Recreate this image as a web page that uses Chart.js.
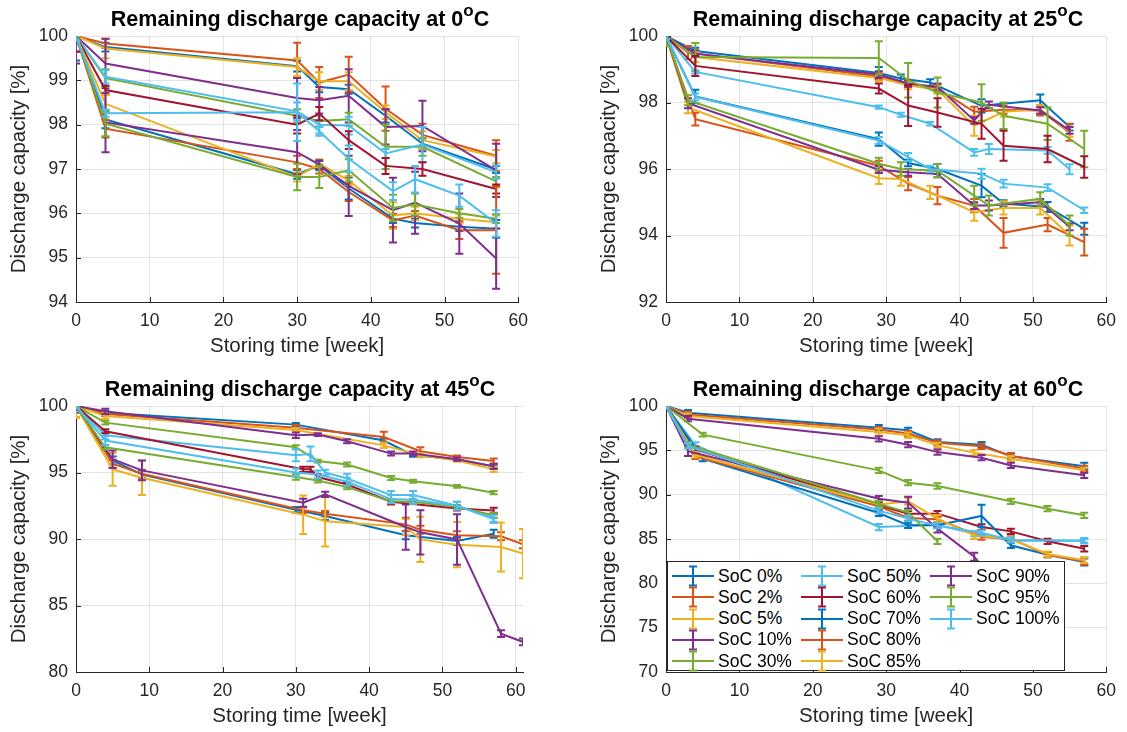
<!DOCTYPE html>
<html>
<head>
<meta charset="utf-8">
<script src="https://cdn.jsdelivr.net/npm/chart.js@4.4.1/dist/chart.umd.min.js"></script>
<style>
  body { margin: 0; background: #fff; width: 1127px; height: 732px; position: relative; overflow: hidden;
         font-family: "Liberation Sans", Arial, sans-serif; }
  canvas { position: absolute; }
  .ttl { position: absolute; font-weight: bold; font-size: 21.5px; line-height: 21.5px; color: #000;
         white-space: nowrap; transform: translateX(-50%); }
  .ttl span { font-size: 17px; position: relative; top: -10px; }
  #legend { position: absolute; left: 667px; top: 561px; width: 396px; height: 108px; background: #fff;
            border: 1px solid #262626; }
  .item { position: absolute; height: 22px; display: flex; align-items: center; font-size: 17.5px; color: #000; white-space: nowrap; }
  .item svg { margin-right: 4px; }
</style>
</head>
<body>
<canvas id="c0" width="537" height="362" style="left:0px;top:0px"></canvas>
<canvas id="c1" width="535" height="362" style="left:590px;top:0px"></canvas>
<canvas id="c2" width="537" height="362" style="left:0px;top:370px"></canvas>
<canvas id="c3" width="535" height="362" style="left:590px;top:370px"></canvas>
<div class="ttl" style="left:300px;top:9px">Remaining discharge capacity at 0<span>o</span>C</div>
<div class="ttl" style="left:888px;top:9px">Remaining discharge capacity at 25<span>o</span>C</div>
<div class="ttl" style="left:300px;top:379px">Remaining discharge capacity at 45<span>o</span>C</div>
<div class="ttl" style="left:888px;top:379px">Remaining discharge capacity at 60<span>o</span>C</div>
<div id="legend"></div>
<script>
const seriesLabels = ['SoC 0%', 'SoC 2%', 'SoC 5%', 'SoC 10%', 'SoC 30%', 'SoC 50%', 'SoC 60%',
                      'SoC 70%', 'SoC 80%', 'SoC 85%', 'SoC 90%', 'SoC 95%', 'SoC 100%'];
const seriesColors = ['#0072BD', '#D95319', '#EDB120', '#7E2F8E', '#77AC30', '#4DBEEE', '#A2142F',
                      '#0072BD', '#D95319', '#EDB120', '#7E2F8E', '#77AC30', '#4DBEEE'];

// 0 °C
const weeks0C = [
  [0,4,30,33,37,42,47,57], [0,4,30,33,37,42,47,57], [0,4,30,33,37,42,47,57], [0,4,30,33,37,42,47,57],
  [0,4,30,33,37,42,47,57], [0,4,30,33,37,42,47,57], [0,4,30,33,37,42,47,57],
  [0,4,30,33,37,43,46,52,57], [0,4,30,33,37,43,46,52,57], [0,4,30,33,37,43,46,52,57],
  [0,4,30,33,37,43,46,52,57], [0,4,30,33,37,43,46,52,57], [0,4,30,33,37,43,46,52,57]
];
const capacity0C = [
  [100,99.75,99.32,98.85,98.8,98.2,97.57,96.99],
  [100,99.83,99.45,98.95,99.13,98.36,97.77,97.3],
  [100,99.72,99.3,98.98,98.98,98.28,97.65,97.28],
  [100,99.38,98.6,98.55,98.65,97.95,97.97,96.97],
  [100,99.05,98.2,98.08,98.12,97.5,97.5,96.72],
  [100,99.08,98.3,98.0,97.98,97.35,97.55,96.93],
  [100,98.78,98.0,98.25,97.65,97.07,97.0,96.55],
  [100,98.12,96.88,97.08,96.56,95.88,95.78,95.7,95.65],
  [100,97.91,97.15,97.0,96.48,95.84,95.95,95.62,95.62],
  [100,98.47,96.82,97.12,96.74,95.95,96.0,95.88,95.8],
  [100,98.05,97.38,97.1,96.62,96.07,96.24,95.77,94.98],
  [100,98.02,96.82,96.82,96.97,96.12,96.2,96.0,95.88],
  [100,98.26,98.28,97.85,97.23,96.5,96.77,96.4,95.77]
];
const error0C = [
  [0.55,0.1,0.12,0.12,0.1,0.15,0.12,0.08],
  [0.34,0.1,0.4,0.35,0.4,0.5,0.25,0.35],
  [0.11,0.22,0.2,0.2,0.2,0.15,0.2,0.15],
  [0.36,0.56,0.45,0.3,0.6,0.4,0.57,0.6],
  [0.19,0.2,0.15,0.12,0.15,0.5,0.2,0.1],
  [0.1,0.15,0.2,0.2,0.2,0.1,0.4,0.15],
  [0.15,0.1,0.2,0.15,0.2,0.18,0.15,0.1],
  [0.1,0.2,0.1,0.1,0.25,0.1,0.1,0.1,0.2],
  [0.1,0.2,0.15,0.1,0.2,0.15,0.1,0.2,0.98],
  [0.1,0.2,0.1,0.1,0.1,0.3,0.15,0.1,0.15],
  [0.62,0.67,0.5,0.1,0.68,0.73,0.7,0.68,0.68],
  [0.1,0.28,0.3,0.25,0.25,0.3,0.25,0.1,0.1],
  [0.1,0.08,0.65,0.1,0.3,0.2,0.3,0.25,0.3]
];

// 25 °C
const weeks25C = [
  [0,4,29,32,36,43,51,55], [0,3,29,33,37,42,46,51,55], [0,4,29,33,37,42,46,51,55], [0,4,29,33,37,42,44,51,55],
  [0,4,29,33,37,43,46,52,57], [0,4,29,32,36,42,44,52,55], [0,4,29,33,37,43,46,52,57],
  [0,4,29,33,37,43,46,52,57], [0,4,29,33,37,42,46,52,57], [0,3,29,32,36,42,46,51,55],
  [0,3,29,33,37,42,44,51,55], [0,3,29,32,37,42,44,51,55], [0,4,29,33,36,43,46,52,57]
];
const capacity25C = [
  [100,99.55,98.89,98.72,98.6,97.9,98.07,97.26],
  [100,99.5,98.78,98.57,98.42,97.72,97.78,97.76,97.1],
  [100,99.37,98.74,98.52,98.38,97.3,97.72,97.8,97.12],
  [100,99.47,98.84,98.57,98.47,97.46,97.93,97.76,97.16],
  [100,99.37,99.34,98.67,98.3,98.0,97.6,97.36,96.6],
  [100,98.92,97.86,97.63,97.36,96.5,96.6,96.56,95.99],
  [100,99.1,98.42,97.91,97.7,97.36,96.7,96.6,96.06],
  [100,98.18,96.9,96.18,96.0,95.5,94.96,94.86,94.2],
  [100,97.5,96.1,95.56,95.2,94.9,94.08,94.33,93.8],
  [100,97.85,95.72,95.7,95.3,94.7,94.83,94.83,94.0],
  [100,97.98,95.98,95.9,95.85,94.9,94.9,95.0,94.26],
  [100,98.07,96.16,96.0,95.95,95.2,94.9,95.1,94.3],
  [100,98.17,96.86,96.36,96.0,95.86,95.56,95.44,94.76]
];
const error25C = [
  [0.1,0.1,0.18,0.12,0.1,0.2,0.17,0.1],
  [0.15,0.2,0.1,0.1,0.1,0.15,0.12,0.15,0.25],
  [0.25,0.15,0.1,0.12,0.12,0.3,0.15,0.12,0.15],
  [0.1,0.1,0.1,0.1,0.1,0.1,0.1,0.1,0.1],
  [0.3,0.42,0.5,0.52,0.45,0.55,0.4,0.49,0.55],
  [0.1,0.05,0.05,0.06,0.05,0.1,0.15,0.1,0.15],
  [0.2,0.3,0.15,0.62,0.43,0.45,0.45,0.4,0.32],
  [0.15,0.2,0.2,0.1,0.15,0.35,0.1,0.15,0.18],
  [0.2,0.19,0.15,0.2,0.26,0.2,0.45,0.2,0.4],
  [0.3,0.17,0.17,0.2,0.2,0.26,0.2,0.2,0.3],
  [0.1,0.15,0.1,0.1,0.1,0.1,0.15,0.1,0.1],
  [0.3,0.15,0.18,0.2,0.2,0.3,0.3,0.2,0.3],
  [0.1,0.1,0.1,0.12,0.1,0.15,0.12,0.1,0.08]
];

// 45 °C
const weeks45C = [
  [0,4,30,42,46,52,57], [0,4,30,42,47,52,57], [0,4,30,42,47,52,57], [0,4,30,33,37,43,46,52,57],
  [0,4,30,33,37,43,46,52,57], [0,4,30,32,34,37,43,46,52,57], [0,4,31,32,33,37,43,52,57],
  [0,5,9,30,34,45,52,57], [0,5,9,31,34,45,47,52,58,61], [0,5,9,31,34,45,47,52,58,61],
  [0,5,9,31,34,45,47,52,58,61], [0,4,30,33,37,43,46,52,57], [0,4,30,33,37,43,46,52,57]
];
const capacity45C = [
  [100,99.5,98.6,97.4,96.3,96.0,95.46],
  [100,99.4,98.37,97.67,96.6,96.17,95.86],
  [100,99.25,98.2,97.04,96.3,95.9,95.24],
  [100,99.6,97.8,97.85,97.35,96.42,96.42,96.0,95.46],
  [100,98.75,96.9,95.86,95.6,94.59,94.34,93.96,93.48],
  [100,97.8,96.3,96.4,95.0,94.55,93.3,93.3,92.5,91.6],
  [100,98.1,95.24,95.24,94.66,94.1,92.8,92.3,92.15],
  [100,95.9,94.85,92.2,91.73,90.28,89.85,90.4],
  [100,95.66,94.9,92.16,91.9,91.1,90.7,90.28,90.2,89.6],
  [100,95.24,94.6,91.83,91.33,90.9,89.97,89.57,89.4,88.9],
  [100,96.0,95.16,92.73,93.36,90.9,90.5,89.97,82.88,82.26],
  [100,96.9,94.66,94.4,93.9,92.83,92.8,92.4,91.78],
  [100,97.4,95.0,94.85,94.3,93.0,92.95,92.5,91.5]
];
const error45C = [
  [0.5,0.15,0.12,0.15,0.12,0.1,0.12],
  [0.3,0.15,0.2,0.4,0.3,0.1,0.2],
  [0.9,0.2,0.15,0.2,0.15,0.1,0.2],
  [0.3,0.2,0.2,0.1,0.15,0.15,0.15,0.12,0.2],
  [0.2,0.15,0.15,0.1,0.15,0.15,0.12,0.1,0.12],
  [0.15,0.3,0.45,0.56,0.2,0.35,0.3,0.3,0.3,0.3],
  [0.15,0.15,0.2,0.2,0.2,0.15,0.2,0.15,0.2],
  [0.2,0.3,0.3,0.2,0.3,0.3,0.3,0.3],
  [0.2,0.3,0.3,0.2,0.2,0.5,0.3,0.3,0.3,0.3],
  [0.8,1.23,1.3,1.45,1.9,0.6,1.7,1.7,1.85,1.85],
  [0.3,0.66,0.75,0.3,0.2,1.7,1.67,1.9,0.25,0.25],
  [0.1,0.15,0.2,0.15,0.15,0.15,0.15,0.15,0.2],
  [0.2,0.35,0.3,0.3,0.3,0.3,0.3,0.3,0.3]
];

// 60 °C
const weeks60C = [
  [0,3,29,33,37,43,47,57], [0,3,29,33,37,43,47,57], [0,3,29,33,37,42,47,57], [0,3,29,33,37,43,47,57],
  [0,5,29,33,37,47,52,57], [0,4,29,37,42,47,57], [0,4,29,33,37,43,47,52,57],
  [0,5,29,33,37,43,47,52,57], [0,4,29,33,37,43,47,52,57], [0,4,29,33,37,42,47,52,57],
  [0,3,29,33,37,42,46], [0,3,29,33,37], [0,3,29,33,37,43,47,57]
];
const capacity60C = [
  [100,99.25,97.56,97.26,95.94,95.64,94.32,93.2],
  [100,99.05,97.35,96.9,95.85,95.45,94.4,92.95],
  [100,98.87,97.07,96.7,95.56,94.74,94.06,92.74],
  [100,98.57,96.3,95.64,94.8,94.17,93.3,92.18],
  [100,96.77,92.74,91.35,90.98,89.25,88.42,87.67],
  [100,95.6,86.35,86.6,85.6,84.8,84.8],
  [100,95.1,88.8,87.86,87.86,86.35,85.86,84.74,83.9],
  [100,94.06,87.93,86.54,86.54,87.6,84.29,83.23,82.4],
  [100,94.32,88.68,87.37,87.22,85.22,85.03,83.23,82.5],
  [100,94.5,88.9,89.25,87.3,85.41,85.0,83.3,82.6],
  [100,94.9,89.55,89.1,86.17,83.0,79.0],
  [100,95.64,88.98,87.97,84.74],
  [100,95.5,88.2,87.3,86.5,85.7,84.9,84.8]
];
const error60C = [
  [0.3,0.3,0.3,0.3,0.3,0.3,0.3,0.4],
  [0.3,0.3,0.3,0.3,0.3,0.3,0.3,0.3],
  [0.3,0.3,0.4,0.3,0.3,0.3,0.3,0.3],
  [0.3,0.3,0.3,0.3,0.3,0.3,0.3,0.3],
  [0.2,0.2,0.3,0.3,0.3,0.3,0.3,0.3],
  [0.2,0.3,0.35,0.3,0.3,0.2,0.2],
  [0.3,0.3,0.3,0.3,0.3,0.3,0.3,0.3,0.3],
  [0.3,0.3,0.35,0.3,0.3,1.26,0.3,0.3,0.4],
  [0.3,0.3,0.3,0.3,0.3,0.3,0.3,0.3,0.4],
  [0.3,0.3,0.4,0.4,0.4,0.4,0.3,0.3,0.3],
  [0.3,0.55,0.3,0.66,0.45,0.45,0.5],
  [0.2,0.3,0.3,0.3,0.3],
  [0.2,0.3,0.3,0.3,0.3,0.3,0.3,0.3]
];

Chart.defaults.font.family = '"Liberation Sans", Arial, sans-serif';
Chart.defaults.color = '#262626';

// MATLAB-style ticks pointing into the axes
const innerTicks = {
  id: 'innerTicks',
  beforeDatasetsDraw(chart) {
    const { ctx, chartArea: a, scales } = chart;
    ctx.save();
    ctx.strokeStyle = '#262626';
    ctx.lineWidth = 1;
    ctx.beginPath();
    scales.x.ticks.forEach(t => {
      const x = Math.round(scales.x.getPixelForValue(t.value)) + 0.5;
      ctx.moveTo(x, a.bottom); ctx.lineTo(x, a.bottom - 5);
    });
    scales.y.ticks.forEach(t => {
      const y = Math.round(scales.y.getPixelForValue(t.value)) + 0.5;
      ctx.moveTo(a.left, y); ctx.lineTo(a.left + 5, y);
    });
    ctx.stroke();
    ctx.restore();
  }
};

// vertical error bars with caps, drawn right after each line
const errorBars = {
  id: 'errorBars',
  afterDatasetDraw(chart, args) {
    const ds = chart.data.datasets[args.index];
    const { ctx, chartArea: a, scales } = chart;
    ctx.save();
    ctx.beginPath();
    ctx.rect(a.left, a.top, a.right - a.left, a.bottom - a.top);
    ctx.clip();
    ctx.strokeStyle = ds.borderColor;
    ctx.lineWidth = ds.borderWidth;
    ctx.beginPath();
    ds.data.forEach((p, i) => {
      const x = scales.x.getPixelForValue(p.x);
      const lo = scales.y.getPixelForValue(p.y - ds.errors[i]);
      const hi = scales.y.getPixelForValue(p.y + ds.errors[i]);
      ctx.moveTo(x, lo); ctx.lineTo(x, hi);
      ctx.moveTo(x - 4, lo); ctx.lineTo(x + 4, lo);
      ctx.moveTo(x - 4, hi); ctx.lineTo(x + 4, hi);
    });
    ctx.stroke();
    ctx.restore();
  }
};

function makeChart(id, weeks, caps, errs, xMax, yMin, yMax, yStep) {
  const n = seriesLabels.length;
  return new Chart(document.getElementById(id), {
    type: 'line',
    data: {
      datasets: seriesLabels.map((label, s) => ({
        label: label,
        data: weeks[s].map((w, i) => ({ x: w, y: caps[s][i] })),
        errors: errs[s],
        borderColor: seriesColors[s],
        backgroundColor: seriesColors[s],
        borderWidth: 2,
        pointRadius: 0,
        tension: 0,
        order: n - s
      }))
    },
    options: {
      responsive: false,
      animation: false,
      events: [],
      layout: { padding: { left: 0, top: 36, right: 14, bottom: 0 } },
      plugins: { legend: { display: false }, tooltip: { enabled: false } },
      scales: {
        x: {
          type: 'linear', min: 0, max: xMax,
          afterFit: s => { s.height = 60; },
          ticks: { stepSize: 10, includeBounds: false, padding: 9, maxRotation: 0, font: { size: 17.5 } },
          grid: { color: 'rgba(38,38,38,0.13)', drawTicks: false },
          border: { color: '#262626', width: 1 },
          title: { display: true, text: 'Storing time [week]', font: { size: 20.5 }, padding: { top: 0, bottom: 3 } }
        },
        y: {
          type: 'linear', min: yMin, max: yMax,
          afterFit: s => { s.width = 76; },
          ticks: { stepSize: yStep, padding: 8, font: { size: 17.5 } },
          grid: { color: 'rgba(38,38,38,0.13)', drawTicks: false },
          border: { color: '#262626', width: 1 },
          title: { display: true, text: 'Discharge capacity [%]', font: { size: 20.5 }, padding: { top: 7, bottom: 0 } }
        }
      }
    },
    plugins: [innerTicks, errorBars]
  });
}

makeChart('c0', weeks0C, capacity0C, error0C, 60, 94, 100, 1);
makeChart('c1', weeks25C, capacity25C, error25C, 60, 92, 100, 2);
makeChart('c2', weeks45C, capacity45C, error45C, 61, 80, 100, 5);
makeChart('c3', weeks60C, capacity60C, error60C, 60, 70, 100, 5);

// legend of the 60 °C panel, three columns filled top to bottom
const legend = document.getElementById('legend');
const colLeft = [4, 133, 262];
seriesLabels.forEach((label, s) => {
  const col = Math.floor(s / 5), row = s % 5;
  const c = seriesColors[s];
  const div = document.createElement('div');
  div.className = 'item';
  div.style.left = colLeft[col] + 'px';
  div.style.top = (3 + row * 21.3) + 'px';
  div.innerHTML =
    `<svg width="42" height="22"><g stroke="${c}" stroke-width="2" fill="none">` +
    `<line x1="0" y1="11" x2="42" y2="11"/><line x1="21" y1="1.5" x2="21" y2="20.5"/>` +
    `<line x1="17" y1="1.5" x2="25" y2="1.5"/><line x1="17" y1="20.5" x2="25" y2="20.5"/></g></svg>` +
    `<span>${label}</span>`;
  legend.appendChild(div);
});
</script>
</body>
</html>
